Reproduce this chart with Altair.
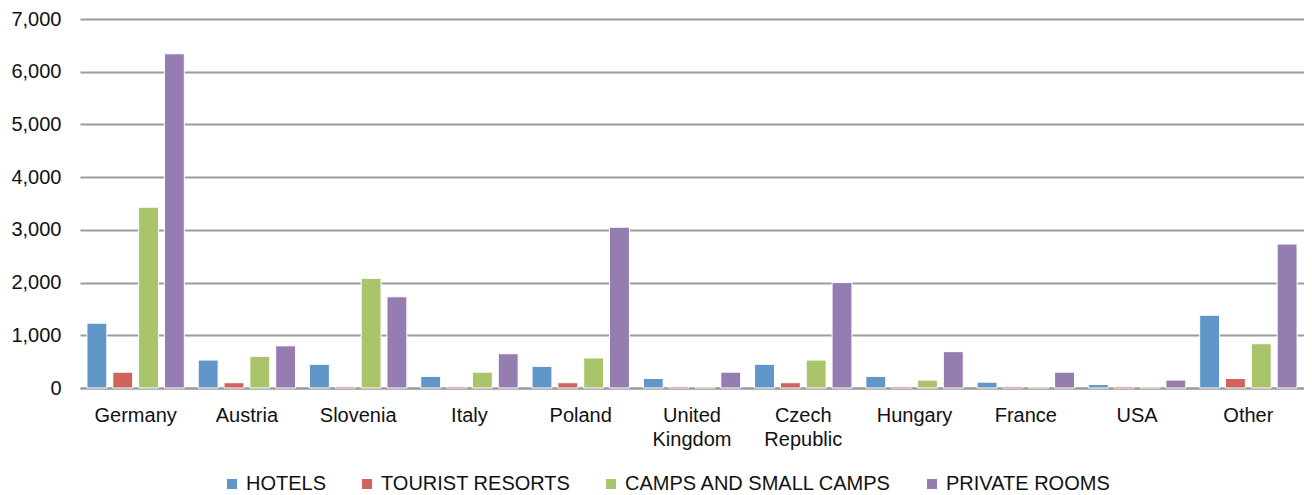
import altair as alt
import pandas as pd

countries = ["Germany", "Austria", "Slovenia", "Italy", "Poland", "United Kingdom",
             "Czech Republic", "Hungary", "France", "USA", "Other"]
series = ["HOTELS", "TOURIST RESORTS", "CAMPS AND SMALL CAMPS", "PRIVATE ROOMS"]
hotels = [1230, 530, 450, 220, 410, 180, 450, 220, 110, 65, 1380]
resorts = [300, 100, 30, 30, 100, 30, 100, 30, 30, 30, 180]
camps = [3430, 600, 2080, 300, 570, 30, 530, 150, 30, 30, 840]
private = [6340, 800, 1730, 650, 3050, 300, 2000, 690, 300, 150, 2730]
colors = ["#6096C8", "#CE645C", "#A9C46B", "#957CB1"]

rows = []
for name, vals in zip(series, [hotels, resorts, camps, private]):
    for c, v in zip(countries, vals):
        rows.append({"country": c, "type": name, "value": v})
df = pd.DataFrame(rows)

FONT = "Liberation Sans"

chart = alt.Chart(df).mark_bar(stroke="white", strokeWidth=1).encode(
    x=alt.X("country:N", sort=countries, title=None,
            scale=alt.Scale(paddingInner=0.125, paddingOuter=0.0625),
            axis=alt.Axis(labelAngle=0, labelFontSize=20, labelFont=FONT, labelColor="#111",
                          labelPadding=17, tickSize=0, domainColor="#9a9a9a", domainWidth=2,
                          labelExpr="split(datum.label, ' ')", labelLineHeight=24,
                          labelBaseline="top")),
    xOffset=alt.XOffset("type:N", sort=series,
                        scale=alt.Scale(paddingInner=0.23, paddingOuter=0)),
    y=alt.Y("value:Q", title=None,
            scale=alt.Scale(domain=[0, 7000], nice=False),
            axis=alt.Axis(values=list(range(0, 7001, 1000)), format=",.0f", labelFontSize=20,
                          labelFont=FONT, labelColor="#111", labelPadding=19, tickSize=0,
                          domain=False, gridColor="#9c9c9c", gridWidth=1.8)),
    color=alt.Color("type:N", sort=series, title=None,
                    scale=alt.Scale(domain=series, range=colors),
                    legend=alt.Legend(orient="none", legendX=142, legendY=455,
                                      direction="horizontal", columns=4, columnPadding=30,
                                      labelFontSize=20, labelFont=FONT, labelColor="#111",
                                      labelOffset=4, labelLimit=400,
                                      symbolType="square",
                                      symbolSize=100, symbolStrokeWidth=0)),
).properties(
    width=1224, height=369,
    autosize=alt.AutoSizeParams(type="none"),
    padding={"left": 72, "top": 11, "right": 0, "bottom": 107},
).configure_view(stroke=None)

chart.save("out.html", embed_options={"renderer": "svg", "actions": False})
